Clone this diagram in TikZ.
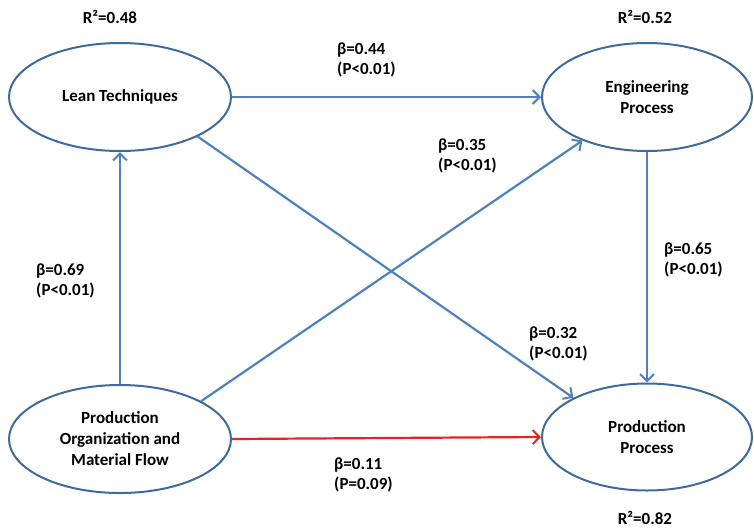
\documentclass[tikz,border=0pt]{standalone}
\usepackage{fontspec}
\setmainfont{Carlito}
\usetikzlibrary{shapes.geometric,arrows.meta}
\definecolor{rimblue}{HTML}{3F6A9E}
\definecolor{pathblue}{HTML}{4F81BD}
\definecolor{pathred}{HTML}{E8231F}
\tikzset{
  construct/.style={ellipse, draw=rimblue, line width=2pt, fill=white,
    align=center, font=\bfseries\fontsize{17}{21}\selectfont},
  path/.style={draw=pathblue, line width=2.2pt,
    -{Straight Barb[length=7pt,width=14pt,line width=2pt]}},
  weakpath/.style={path, draw=pathred},
  coef/.style={anchor=west, align=left, inner sep=0pt,
    font=\bfseries\fontsize{17}{20}\selectfont},
  rsq/.style={font=\bfseries\fontsize{17}{18}\selectfont, inner sep=0pt}
}
\begin{document}
\begin{tikzpicture}[x=1pt,y=-1pt]
\useasboundingbox (0,0) rectangle (754,528);

\node[construct, minimum width=222pt, minimum height=108pt] (lean) at (120,97) {Lean Techniques};
\node[construct, minimum width=210pt, minimum height=108pt] (eng) at (647,97) {Engineering\\Process};
\node[construct, minimum width=222pt, minimum height=108pt] (porg) at (120,439) {Production\\Organization and\\Material Flow};
\node[construct, minimum width=210pt, minimum height=107pt] (pp) at (647,437) {Production\\Process};

\node[rsq] (r1) at (110,17) {R²=0.48};
\node[rsq] (r2) at (645,17) {R²=0.52};
\node[rsq] (r3) at (645,518) {R²=0.82};

\draw[path] (lean.east) -- (eng.west);
\draw[path] (lean.-27) -- (pp.152);
\draw[path] (porg.north) -- (lean.south);
\draw[path] (porg.25) -- (eng.-146);
\draw[path] (eng.south) -- (pp.north);
\draw[weakpath] (porg.east) -- (pp.west);

\node[coef] (b1) at (337,60) {β=0.44\\(P<0.01)};
\node[coef] (b2) at (438,156) {β=0.35\\(P<0.01)};
\node[coef] (b3) at (36,281) {β=0.69\\(P<0.01)};
\node[coef] (b4) at (664,260) {β=0.65\\(P<0.01)};
\node[coef] (b5) at (529,344) {β=0.32\\(P<0.01)};
\node[coef] (b6) at (334,475) {β=0.11\\(P=0.09)};
\end{tikzpicture}
\end{document}
